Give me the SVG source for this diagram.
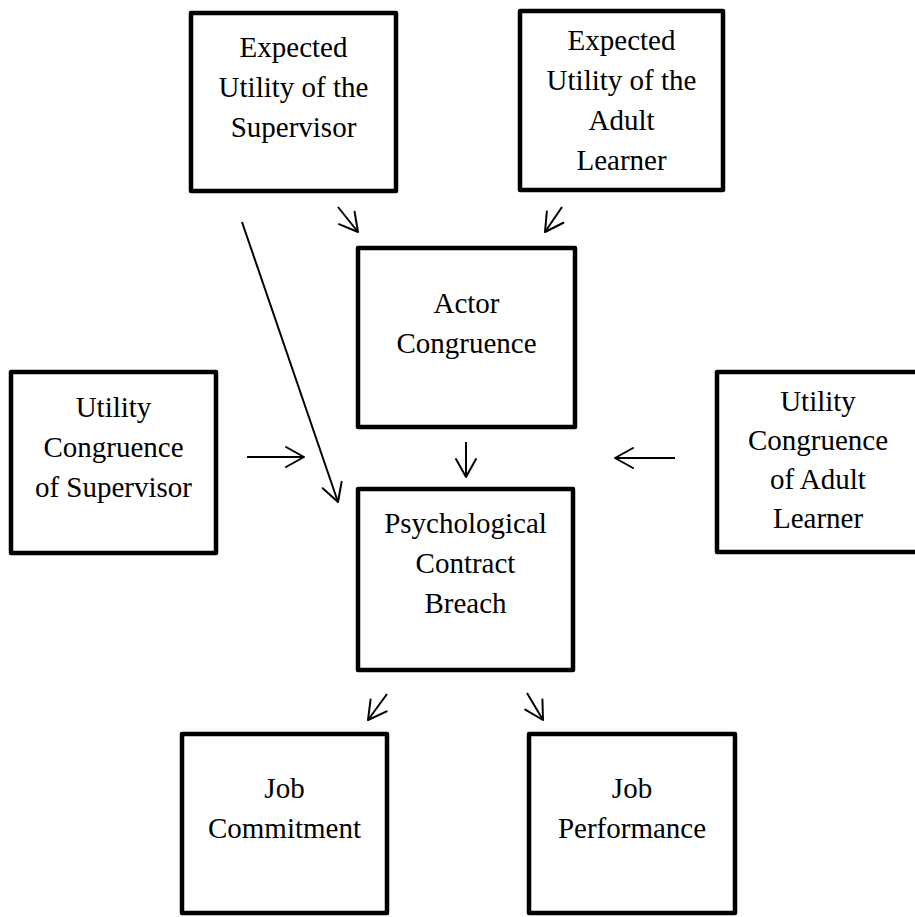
<svg xmlns="http://www.w3.org/2000/svg" width="915" height="917" viewBox="0 0 915 917">
  <defs>
    <style>
      .box { fill: #ffffff; stroke: #000000; stroke-width: 4.5; stroke-linejoin: round; }
      .lbl { font-family: "Liberation Serif", "Times New Roman", serif; font-size: 29px; fill: #000000; text-anchor: middle; }
      .edge { stroke: #000000; stroke-width: 2; fill: none; marker-end: url(#vhead); }
    </style>
    <marker id="vhead" markerUnits="userSpaceOnUse" viewBox="-22 -13 24 26" markerWidth="24" markerHeight="26" refX="0" refY="0" orient="auto">
      <path d="M-18,-10 L0,0 L-18,10" fill="none" stroke="#000000" stroke-width="2" stroke-linecap="round" stroke-linejoin="round"/>
    </marker>
  </defs>
  <rect width="915" height="917" fill="#ffffff"/>

  <g id="expected-utility-supervisor">
    <rect class="box" x="191" y="13" width="205" height="178"/>
    <text class="lbl" x="293.5" y="57">Expected</text>
    <text class="lbl" x="293.5" y="97">Utility of the</text>
    <text class="lbl" x="293.5" y="137">Supervisor</text>
  </g>

  <g id="expected-utility-learner">
    <rect class="box" x="520" y="11" width="203" height="179"/>
    <text class="lbl" x="621.5" y="50">Expected</text>
    <text class="lbl" x="621.5" y="90">Utility of the</text>
    <text class="lbl" x="621.5" y="130">Adult</text>
    <text class="lbl" x="621.5" y="170">Learner</text>
  </g>

  <g id="actor-congruence">
    <rect class="box" x="358" y="248" width="217" height="179"/>
    <text class="lbl" x="466.5" y="313">Actor</text>
    <text class="lbl" x="466.5" y="353">Congruence</text>
  </g>

  <g id="utility-congruence-supervisor">
    <rect class="box" x="11" y="372" width="205" height="181"/>
    <text class="lbl" x="113.5" y="417">Utility</text>
    <text class="lbl" x="113.5" y="457">Congruence</text>
    <text class="lbl" x="113.5" y="497">of Supervisor</text>
  </g>

  <g id="utility-congruence-learner">
    <rect class="box" x="717" y="372" width="204" height="180"/>
    <text class="lbl" x="818" y="411">Utility</text>
    <text class="lbl" x="818" y="450">Congruence</text>
    <text class="lbl" x="818" y="489">of Adult</text>
    <text class="lbl" x="818" y="528">Learner</text>
  </g>

  <g id="psychological-contract-breach">
    <rect class="box" x="358" y="489" width="215" height="181"/>
    <text class="lbl" x="465.5" y="533">Psychological</text>
    <text class="lbl" x="465.5" y="573">Contract</text>
    <text class="lbl" x="465.5" y="613">Breach</text>
  </g>

  <g id="job-commitment">
    <rect class="box" x="182" y="734" width="205" height="179"/>
    <text class="lbl" x="284.5" y="798">Job</text>
    <text class="lbl" x="284.5" y="838">Commitment</text>
  </g>

  <g id="job-performance">
    <rect class="box" x="529" y="734" width="206" height="179"/>
    <text class="lbl" x="632" y="798">Job</text>
    <text class="lbl" x="632" y="838">Performance</text>
  </g>

  <g id="connectors">
    <line class="edge" x1="338" y1="207" x2="358" y2="232"/>
    <line class="edge" x1="562" y1="207" x2="545" y2="232"/>
    <line class="edge" x1="466" y1="442" x2="466" y2="477"/>
    <line class="edge" x1="247" y1="457" x2="304" y2="457"/>
    <line class="edge" x1="675" y1="458" x2="615" y2="458"/>
    <line class="edge" x1="242" y1="222" x2="338" y2="502"/>
    <line class="edge" x1="387" y1="694" x2="368" y2="720"/>
    <line class="edge" x1="527" y1="693" x2="543" y2="720"/>
  </g>
</svg>
